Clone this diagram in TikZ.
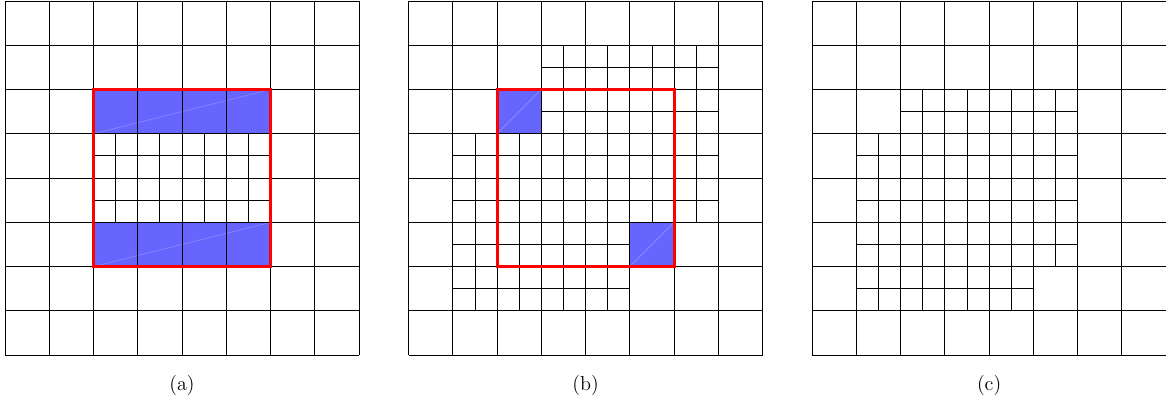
\documentclass[tikz,border=0pt]{standalone}
\usepackage{tikz}
\usetikzlibrary{positioning}
\definecolor{CellBlue}{RGB}{102,102,255}
\tikzset{
  % mesh lines, coarse and fine
  mesh/.style={draw=black, line width=0.55pt},
  % flagged coarse cells
  flagged/.style={fill=CellBlue, draw=none},
  % faint seam left by the fill
  seam/.style={draw=white, opacity=0.25, line width=0.4pt},
  % patch outline
  patch/.style={draw=red, line width=1.9pt},
  % sub-figure caption
  subcap/.style={font=\fontsize{13}{15}\selectfont, inner sep=0pt}
}

\begin{document}
\begin{tikzpicture}
  \useasboundingbox (-0.113,-1.243) rectangle (26.237,8.023);

  % (a) refined middle band
  \begin{scope}
    \fill[flagged] (2,5) rectangle (6,6);
    \fill[flagged] (2,2) rectangle (6,3);
    \draw[seam] (2,5) -- (6,6);
    \draw[seam] (2,2) -- (6,3);
    \draw[mesh] (0,0) grid (8,8);
    \foreach \y in {3,4}
      \foreach \x in {2,...,5}
        \draw[mesh] (\x+0.5,\y) -- ++(0,1) (\x,\y+0.5) -- ++(1,0);
    \draw[patch] (2,2) rectangle (6,6);
    \node[subcap] (capA) at (4,-0.68) {(a)};
  \end{scope}

  % (b) shifted refinement
  \begin{scope}[xshift=9.12cm]
    \fill[flagged] (2,5) rectangle (3,6);
    \fill[flagged] (5,2) rectangle (6,3);
    \draw[seam] (2,5) -- (3,6);
    \draw[seam] (5,2) -- (6,3);
    \draw[mesh] (0,0) grid (8,8);
    \foreach \y/\a/\b in {6/3/6, 5/3/6, 4/1/6, 3/1/6, 2/1/4, 1/1/4}
      \foreach \x in {\a,...,\b}
        \draw[mesh] (\x+0.5,\y) -- ++(0,1) (\x,\y+0.5) -- ++(1,0);
    \draw[patch] (2,2) rectangle (6,6);
    \node[subcap] (capB) at (4,-0.68) {(b)};
  \end{scope}

  % (c) final mesh
  \begin{scope}[xshift=18.24cm]
    \draw[mesh] (0,0) grid (8,8);
    \foreach \y/\a/\b in {5/2/5, 4/1/5, 3/1/5, 2/1/5, 1/1/4}
      \foreach \x in {\a,...,\b}
        \draw[mesh] (\x+0.5,\y) -- ++(0,1) (\x,\y+0.5) -- ++(1,0);
    \node[subcap] (capC) at (4,-0.68) {(c)};
  \end{scope}

\end{tikzpicture}
\end{document}
